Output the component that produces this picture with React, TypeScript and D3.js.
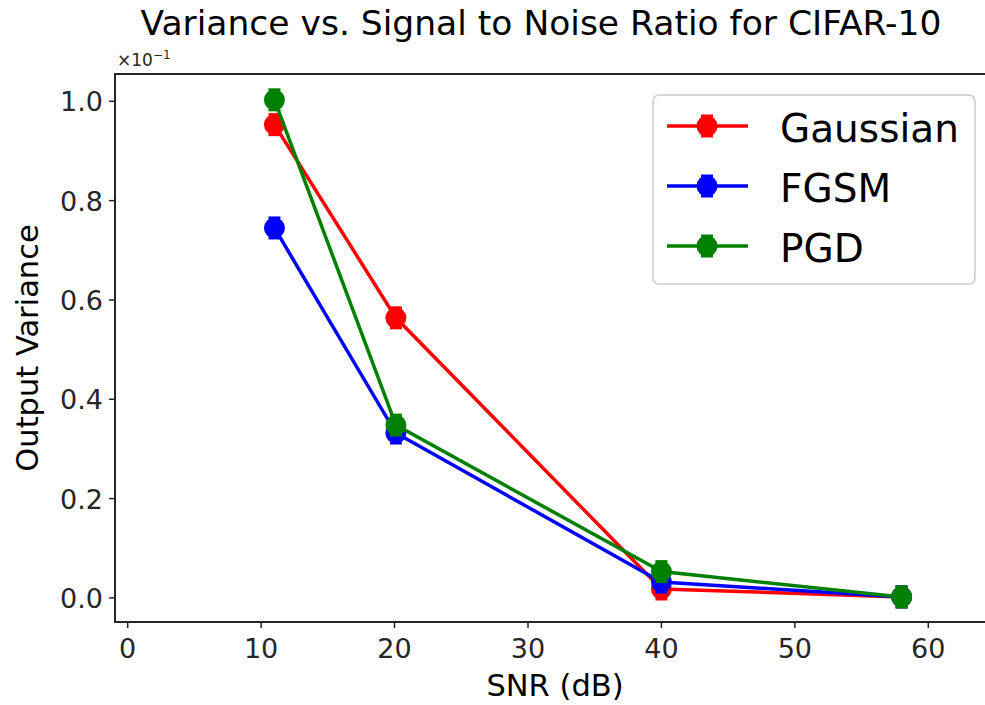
import React from 'react';
import * as d3 from 'd3';

// SNR values (dB) and output variance (in units of 1e-1)
const snr = [11, 20.1, 40, 58];
const gaussian = [0.953, 0.564, 0.018, 0.002];
const fgsm = [0.745, 0.332, 0.032, 0.002];
const pgd = [1.003, 0.348, 0.053, 0.002];

const seriesNames = ['Gaussian', 'FGSM', 'PGD'];
const seriesColors = ['#ff0000', '#0000ff', '#008000'];
const xTicks = [0, 10, 20, 30, 40, 50, 60];
const yTicks = [0.0, 0.2, 0.4, 0.6, 0.8, 1.0];

const W = 985;
const H = 705;
const left = 115;
const right = 995;
const top = 74;
const bottom = 622;
const font = 'DejaVu Sans, sans-serif';

const Marker = ({ cx, cy, color }: { cx: number; cy: number; color: string }) => (
  <g>
    <line x1={cx - 6} x2={cx + 6} y1={cy - 10} y2={cy - 10} stroke={color} strokeWidth={3} />
    <line x1={cx - 6} x2={cx + 6} y1={cy + 10} y2={cy + 10} stroke={color} strokeWidth={3} />
    <circle cx={cx} cy={cy} r={10.5} fill={color} />
  </g>
);

const App = () => {
  const x = d3.scaleLinear().domain([-0.95, 65]).range([left, right]);
  const y = d3.scaleLinear().domain([-0.0485, 1.055]).range([bottom, top]);

  const all = [gaussian, fgsm, pgd];
  const line = d3
    .line<number>()
    .x((_, i) => x(snr[i]))
    .y((d) => y(d));

  return (
    <svg width={W} height={H} style={{ position: 'absolute', left: 0, top: 0 }} fontFamily={font}>
      <rect width={W} height={H} fill="#fff" />
      <text x={541} y={35} fontSize={34.5} textAnchor="middle" fill="#000">
        Variance vs. Signal to Noise Ratio for CIFAR-10
      </text>

      {/* axes frame */}
      <rect x={left} y={top} width={right - left} height={bottom - top} fill="none" stroke="#262626" strokeWidth={2} />

      {/* x ticks */}
      {xTicks.map((t) => (
        <g key={'x' + t}>
          <line x1={x(t)} x2={x(t)} y1={bottom} y2={bottom + 6} stroke="#262626" strokeWidth={1.5} />
          <text x={x(t)} y={bottom + 36} fontSize={27} textAnchor="middle" fill="#262626">
            {t}
          </text>
        </g>
      ))}
      {/* y ticks */}
      {yTicks.map((t) => (
        <g key={'y' + t}>
          <line x1={left - 6} x2={left} y1={y(t)} y2={y(t)} stroke="#262626" strokeWidth={1.5} />
          <text x={left - 12} y={y(t) + 10} fontSize={27} textAnchor="end" fill="#262626">
            {t.toFixed(1)}
          </text>
        </g>
      ))}
      <text x={117} y={66} fontSize={17} fill="#262626">
        ×10
        <tspan dy={-7} fontSize={12}>
          −1
        </tspan>
      </text>

      <text x={(left + right) / 2} y={696} fontSize={30.5} textAnchor="middle" fill="#000">
        SNR (dB)
      </text>
      <text
        transform={`translate(38, ${(top + bottom) / 2}) rotate(-90)`}
        fontSize={30.5}
        textAnchor="middle"
        fill="#000"
      >
        Output Variance
      </text>

      {/* series */}
      {all.map((vals, si) => (
        <g key={seriesNames[si]}>
          <path d={line(vals) || ''} fill="none" stroke={seriesColors[si]} strokeWidth={3.5} />
          {vals.map((v, i) => (
            <Marker key={i} cx={x(snr[i])} cy={y(v)} color={seriesColors[si]} />
          ))}
        </g>
      ))}

      {/* legend */}
      <rect x={653} y={95} width={322} height={189} rx={6} fill="#fff" fillOpacity={0.8} stroke="#cccccc" strokeWidth={1.5} />
      {seriesNames.map((n, i) => {
        const ly = 126 + i * 60;
        return (
          <g key={'l' + n}>
            <line x1={667} x2={748} y1={ly} y2={ly} stroke={seriesColors[i]} strokeWidth={3.5} />
            <Marker cx={707} cy={ly} color={seriesColors[i]} />
            <text x={780} y={ly + 16} fontSize={39} fill="#000">
              {n}
            </text>
          </g>
        );
      })}
    </svg>
  );
};

export default App;
